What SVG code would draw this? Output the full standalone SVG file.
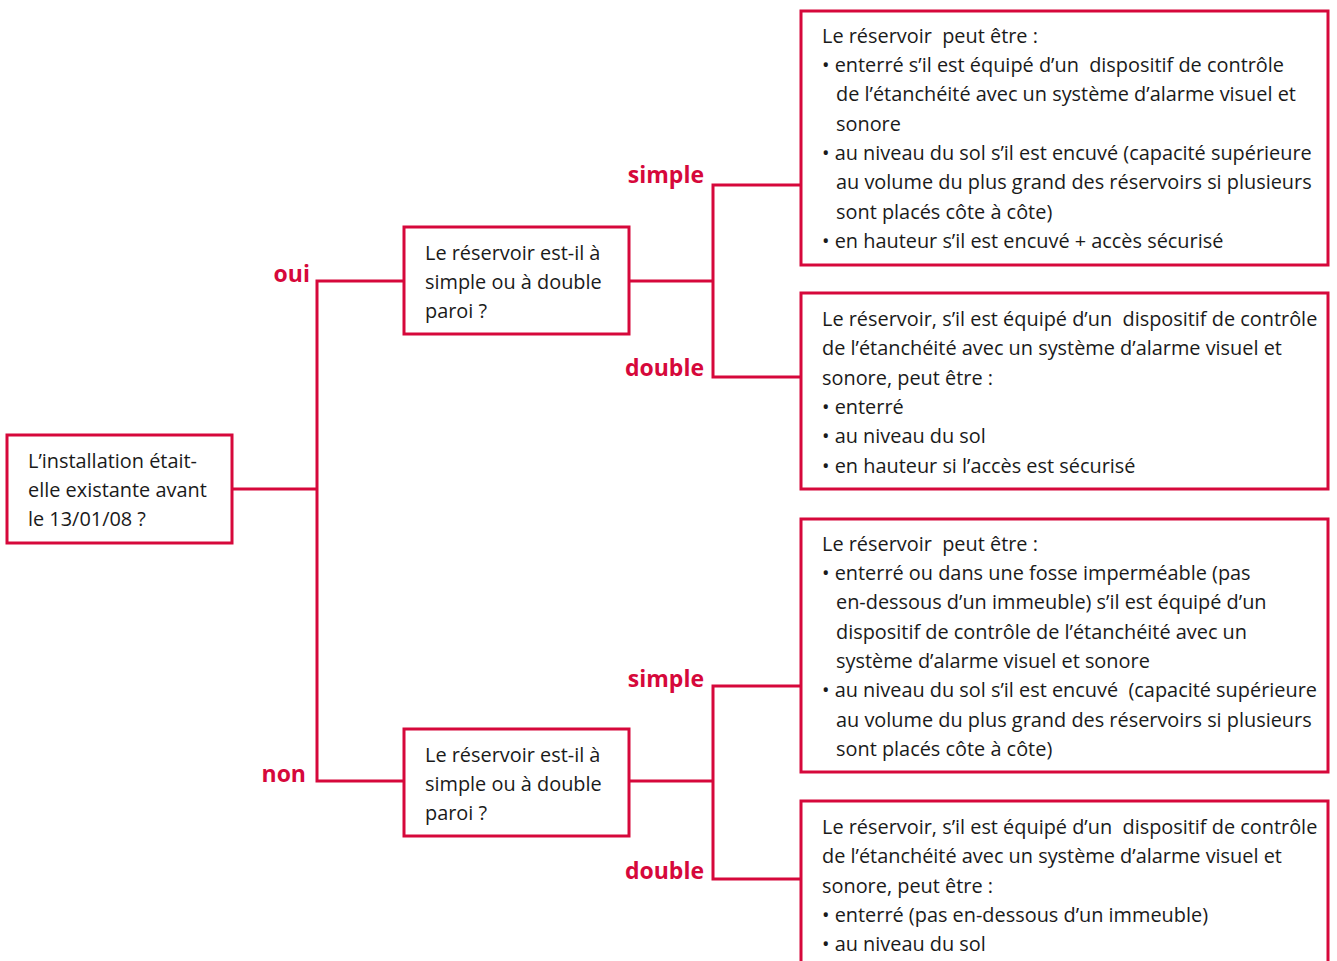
<svg xmlns="http://www.w3.org/2000/svg" width="1337" height="961" viewBox="0 0 1337 961">
<style>
.box{fill:#fff;stroke:#d6083b;stroke-width:3}
.ln{fill:none;stroke:#d6083b;stroke-width:3}
.t{font-family:"Open Sans","Noto Sans",sans-serif;font-size:19.9px;fill:#1a1a1a;white-space:pre}
.lb{font-family:"Open Sans","Noto Sans",sans-serif;font-size:23px;font-weight:bold;fill:#d6083b;text-anchor:end}
</style>
<rect width="1337" height="961" fill="#fff"/>
<g id="connectors">
<polyline class="ln" points="232,489 317,489"/>
<polyline class="ln" points="404,281 317,281 317,781 404,781"/>
<polyline class="ln" points="629,281 713,281"/>
<polyline class="ln" points="801,185 713,185 713,377 801,377"/>
<polyline class="ln" points="629,781 713,781"/>
<polyline class="ln" points="801,686 713,686 713,879 801,879"/>
<text class="lb" x="310" y="282">oui</text>
<text class="lb" x="306" y="782">non</text>
<text class="lb" x="704" y="183">simple</text>
<text class="lb" x="704" y="376">double</text>
<text class="lb" x="704" y="687">simple</text>
<text class="lb" x="704" y="879">double</text>
</g>
<g id="root">
<rect class="box" x="7" y="435" width="225" height="108"/>
<text class="t" x="28" y="468">L’installation était-</text>
<text class="t" x="28" y="497">elle existante avant</text>
<text class="t" x="28" y="526">le 13/01/08 ?</text>
</g>
<g id="q1">
<rect class="box" x="404" y="227" width="225" height="107"/>
<text class="t" x="425" y="260">Le réservoir est-il à</text>
<text class="t" x="425" y="289">simple ou à double</text>
<text class="t" x="425" y="318">paroi ?</text>
</g>
<g id="q2">
<rect class="box" x="404" y="729" width="225" height="107"/>
<text class="t" x="425" y="762">Le réservoir est-il à</text>
<text class="t" x="425" y="791">simple ou à double</text>
<text class="t" x="425" y="820">paroi ?</text>
</g>
<g id="a1">
<rect class="box" x="801" y="11" width="527" height="254"/>
<text class="t" x="822" y="43">Le réservoir  peut être :</text>
<text class="t" x="822" y="72">• enterré s’il est équipé d’un  dispositif de contrôle</text>
<text class="t" x="836" y="101">de l’étanchéité avec un système d’alarme visuel et</text>
<text class="t" x="836" y="131">sonore</text>
<text class="t" x="822" y="160">• au niveau du sol s’il est encuvé (capacité supérieure</text>
<text class="t" x="836" y="189">au volume du plus grand des réservoirs si plusieurs</text>
<text class="t" x="836" y="219">sont placés côte à côte)</text>
<text class="t" x="822" y="248">• en hauteur s’il est encuvé + accès sécurisé</text>
</g>
<g id="a2">
<rect class="box" x="801" y="293" width="527" height="196"/>
<text class="t" x="822" y="326">Le réservoir, s’il est équipé d’un  dispositif de contrôle</text>
<text class="t" x="822" y="355">de l’étanchéité avec un système d’alarme visuel et</text>
<text class="t" x="822" y="385">sonore, peut être :</text>
<text class="t" x="822" y="414">• enterré</text>
<text class="t" x="822" y="443">• au niveau du sol</text>
<text class="t" x="822" y="473">• en hauteur si l’accès est sécurisé</text>
</g>
<g id="b1">
<rect class="box" x="801" y="519" width="527" height="253"/>
<text class="t" x="822" y="551">Le réservoir  peut être :</text>
<text class="t" x="822" y="580">• enterré ou dans une fosse imperméable (pas</text>
<text class="t" x="836" y="609">en-dessous d’un immeuble) s’il est équipé d’un</text>
<text class="t" x="836" y="639">dispositif de contrôle de l’étanchéité avec un</text>
<text class="t" x="836" y="668">système d’alarme visuel et sonore</text>
<text class="t" x="822" y="697">• au niveau du sol s’il est encuvé  (capacité supérieure</text>
<text class="t" x="836" y="727">au volume du plus grand des réservoirs si plusieurs</text>
<text class="t" x="836" y="756">sont placés côte à côte)</text>
</g>
<g id="b2">
<rect class="box" x="801" y="801" width="527" height="170"/>
<text class="t" x="822" y="834">Le réservoir, s’il est équipé d’un  dispositif de contrôle</text>
<text class="t" x="822" y="863">de l’étanchéité avec un système d’alarme visuel et</text>
<text class="t" x="822" y="893">sonore, peut être :</text>
<text class="t" x="822" y="922">• enterré (pas en-dessous d’un immeuble)</text>
<text class="t" x="822" y="951">• au niveau du sol</text>
</g>
</svg>
